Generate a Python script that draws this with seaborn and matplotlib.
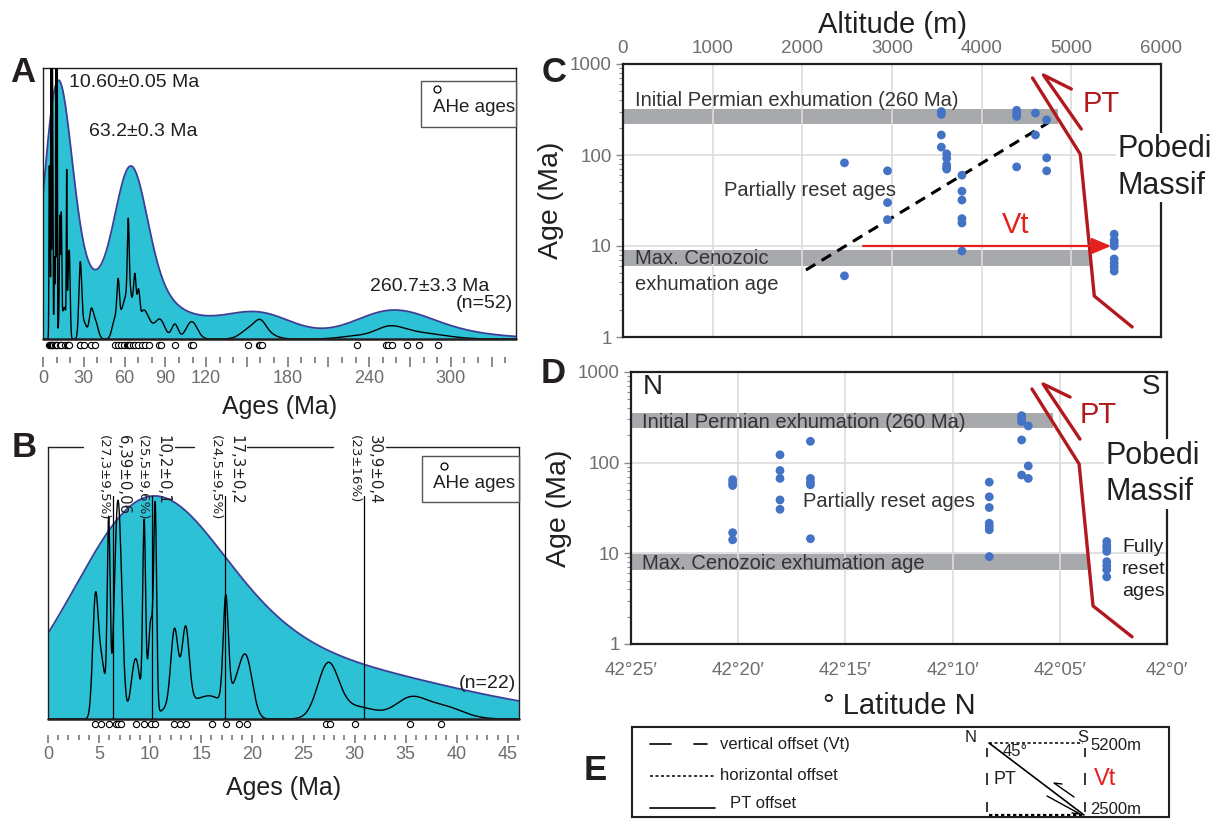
import numpy as np
import seaborn as sns
import matplotlib.pyplot as plt
from matplotlib import font_manager
from matplotlib.patches import Rectangle
from matplotlib.transforms import blended_transform_factory
from matplotlib.ticker import MultipleLocator, FuncFormatter, LogLocator, NullFormatter

# AHe ages younger than 40 Ma (panel B, n=22) and 1 sigma (Ma)
young_ages = [4.62, 5.18, 5.94, 6.67, 6.83, 7.10, 8.58, 9.41, 10.07, 10.50, 12.38,
              12.94, 13.47, 16.01, 17.40, 18.65, 19.48, 27.24, 27.57, 30.04, 35.39, 38.46]
young_err = [0.26, 0.43, 0.14, 0.30, 0.30, 0.30, 0.43, 0.14, 0.27, 0.14, 0.35,
             1.50, 0.35, 1.25, 0.25, 0.80, 0.60, 1.00, 1.00, 2.10, 1.45, 2.00]
# older AHe ages, panel A only (A has all 52)
old_ages = [52.8, 55.3, 57.3, 59.7, 61.5, 62.7, 63.3, 64.0, 66.5, 67.7, 70.2, 72.7, 75.2, 77.7,
            85.0, 87.0, 97.0, 108.8, 110.0, 151.0, 158.6, 160.0, 161.0,
            230.8, 252.0, 254.0, 257.0, 268.0, 277.0, 290.5]
old_err = [2.0, 0.9, 2.5, 2.5, 2.0, 0.6, 1.2, 2.5, 1.5, 0.9, 1.0, 2.5, 3.0, 3.5,
           3.5, 3.5, 2.4, 4.0, 4.0, 6.0, 8.0, 4.0, 8.0,
           12.0, 10.0, 10.0, 10.0, 12.0, 14.0, 15.0]

peak_ages = [6.39, 10.2, 17.3, 30.9]
peak_text = ['6,39±0,06', '10,2±0,1', '17,3±0,2', '30,9±0,4']
peak_frac = ['(27,3±9,5%)', '(25,5±9,6%)', '(24,5±9,5%)', '(23±16%)']

# panel C: altitude (m) vs age (Ma)
alt_c = [2470, 2470, 2950, 2950, 2950, 3550, 3550, 3550, 3550, 3610, 3610, 3610, 3610, 3610,
         3780, 3780, 3780, 3780, 3780, 3780, 4390, 4390, 4390, 4390, 4600, 4600,
         4725, 4725, 4725, 5478, 5478, 5478, 5478, 5478, 5478, 5478, 5478]
age_c = [82, 4.7, 67, 30, 19.5, 300, 280, 166, 122, 103, 92, 78, 73, 70,
         60, 40, 32, 20, 17.9, 8.8, 310, 285, 265, 74, 289, 166,
         243, 93, 67, 13.5, 11.6, 10.8, 10.0, 7.2, 6.5, 5.9, 5.3]
trend_alt = [2040, 4740]
trend_age = [5.45, 225]
fault_alt = [4567, 5100, 5256, 5678]
fault_age_c = [702, 102, 2.82, 1.29]
harp_alt = [5000, 4689, 5111]
harp_age_c = [531, 757, 193]
vt_alt = [2678, 5444]
vt_age = 10
permian_c = (219, 320, 4856)     # low, high, right end (m)
cenozoic_c = (6.0, 9.0, 5211)

# panel D: latitude (minutes north of 42°) vs age (Ma)
lat_d = [20.26] * 5 + [18.05] * 5 + [16.63] * 5 + [8.29] * 7 + [6.78] * 5 + [6.47] * 3 + [2.81] * 8
age_d = [65, 60, 56, 16.9, 14.1,
         122, 82, 67, 38.8, 30.6,
         172, 67, 61, 57, 14.5,
         61, 42, 32, 21.5, 19.8, 18.2, 9.2,
         330, 308, 283, 178, 73,
         254, 92, 67,
         13.5, 12.2, 11.4, 10.5, 8.1, 7.3, 6.6, 5.5]
fault_lat = [6.30, 4.10, 3.45, 1.63]
fault_age_d = [650, 96.8, 2.63, 1.2]
harp_lat = [4.52, 5.78, 4.06]
harp_age_d = [529, 738, 182]
permian_d = (241, 353, 5.32)
cenozoic_d = (6.6, 9.8, 3.68)
lat_ticks = [25, 20, 15, 10, 5, 0]
lat_labels = ['42°25′', '42°20′', '42°15′', '42°10′', '42°05′', '42°0′']

CYAN = '#2dc1d6'
EDGE = '#3b3f98'
INK = '#231f20'
GRAYTXT = '#6d6e71'
BLUE = '#4472c4'
DARKRED = '#b2191f'
RED = '#e3201b'
BAND = '#a7a9ac'
GRID = '#dcdcdc'

sns.set_theme(style='white')
plt.rcParams['font.family'] = ['Liberation Sans', 'DejaVu Sans']
names = {f.name for f in font_manager.fontManager.ttflist}
NARROW = 'Liberation Sans Narrow' if 'Liberation Sans Narrow' in names else 'DejaVu Sans'
nk = 1.0 if NARROW == 'Liberation Sans Narrow' else 0.8

W, H = 1221, 819
fig = plt.figure(figsize=(W / 100, H / 100), dpi=100)


def px_axes(l, t, r, b):
    return fig.add_axes([l / W, 1 - b / H, (r - l) / W, (b - t) / H])


def adaptive_kde(grid, data, h, alpha, q):
    # kernels widen only where the pilot density falls below its q-quantile
    d = np.asarray(data, float)
    pilot = np.exp(-0.5 * ((d[:, None] - d[None, :]) / h) ** 2).sum(axis=1)
    pref = np.quantile(pilot, q)
    hi = h * np.maximum(1.0, pref / pilot) ** alpha
    return (np.exp(-0.5 * ((grid[:, None] - d[None, :]) / hi) ** 2) / hi).sum(axis=1)


def pdp(grid, data, err):
    d = np.asarray(data, float)
    s = np.asarray(err, float)
    return (np.exp(-0.5 * ((grid[:, None] - d[None, :]) / s) ** 2) / s).sum(axis=1)


def age_panel(ax, ages, errs, xmax, kde_opts, peak_frac_top, pdp_k, n_label, circ_off):
    grid = np.linspace(0, xmax, 6000)
    kde = adaptive_kde(grid, ages, *kde_opts)
    top = kde.max() / peak_frac_top
    ax.fill_between(grid, kde, color=CYAN, lw=0, zorder=1)
    ax.plot(grid, kde, color=EDGE, lw=1.3, zorder=2)
    curve = pdp(grid, ages, errs) * pdp_k * top
    sns.lineplot(x=grid, y=curve, ax=ax, color='black', lw=1.0, estimator=None, zorder=3)
    ax.set_xlim(0, xmax)
    ax.set_ylim(0, top)
    ax.axhline(0, color=INK, lw=1.8, zorder=4, clip_on=False)
    sns.scatterplot(x=ages, y=[-circ_off * top] * len(ages), ax=ax, color='white',
                    edgecolor='black', linewidth=0.8, s=20, clip_on=False, zorder=5, legend=False)
    ax.set_yticks([])
    for s in ['left', 'right', 'top']:
        ax.spines[s].set_color(INK)
        ax.spines[s].set_linewidth(1.0)
    ax.text(0.993, 0.13, n_label, transform=ax.transAxes, ha='right', va='center', fontsize=14, color=INK)
    return top


def legend_box(ax, x0, y0, w, h, mx, my, tx, ty):
    ax.add_patch(Rectangle((x0, y0), w, h, transform=ax.transAxes, fc='white', ec='#555555',
                           lw=1.0, clip_on=False, zorder=6))
    ax.plot([mx], [my], 'o', transform=ax.transAxes, ms=5, mfc='white', mec='black', mew=0.9,
            zorder=7, clip_on=False)
    ax.text(tx, ty, 'AHe ages', transform=ax.transAxes, fontsize=13.5, va='center', ha='left',
            color=INK, zorder=7)


# ---------------- panel A ----------------
axA = px_axes(43, 68, 516, 339)
ages_a = young_ages + old_ages
err_a = young_err + old_err
topA = age_panel(axA, ages_a, err_a, 348, (9.0, 0.75, 0.75), 0.955, 0.13, '(n=52)', 0.022)
axA.spines['bottom'].set_position(('outward', 13))
axA.spines['bottom'].set_visible(False)
axA.xaxis.set_major_locator(MultipleLocator(30))
axA.xaxis.set_minor_locator(MultipleLocator(10))
axA.xaxis.set_major_formatter(FuncFormatter(
    lambda v, p: '' if int(round(v)) in (150, 210, 270, 330) else f'{v:.0f}'))
axA.tick_params(axis='x', which='major', bottom=True, direction='out', length=7.2, width=1.1,
                color=GRAYTXT, labelsize=13, labelcolor=GRAYTXT, pad=2)
axA.tick_params(axis='x', which='minor', bottom=True, direction='out', length=4.3, width=1.1,
                color=GRAYTXT)
axA.set_xlabel('Ages (Ma)', fontsize=18, color=INK, labelpad=6)
axA.text(0.055, 0.945, '10.60±0.05 Ma', transform=axA.transAxes, fontsize=14, va='center', color=INK)
axA.text(0.098, 0.764, '63.2±0.3 Ma', transform=axA.transAxes, fontsize=14, va='center', color=INK)
axA.text(0.691, 0.192, '260.7±3.3 Ma', transform=axA.transAxes, fontsize=14, va='center', color=INK)
legend_box(axA, 0.80, 0.782, 0.20, 0.170, 0.832, 0.922, 0.825, 0.856)

# ---------------- panel B ----------------
axB = px_axes(48, 447, 519, 719)
topB = age_panel(axB, young_ages, young_err, 46.1, (6.0, 0.5, 1.0), 0.82, 0.095, '(n=22)', 0.018)
axB.spines['bottom'].set_position(('outward', 11.5))
axB.spines['bottom'].set_visible(False)
axB.xaxis.set_major_locator(MultipleLocator(5))
axB.xaxis.set_minor_locator(MultipleLocator(1))
axB.xaxis.set_major_formatter(FuncFormatter(lambda v, p: f'{v:.0f}'))
axB.tick_params(axis='x', which='major', bottom=True, direction='out', length=6, width=1.1,
                color=GRAYTXT, labelsize=13, labelcolor=GRAYTXT, pad=2)
axB.tick_params(axis='x', which='minor', bottom=True, direction='out', length=3.6, width=1.1,
                color=GRAYTXT)
axB.set_xlabel('Ages (Ma)', fontsize=18, color=INK, labelpad=9)
legend_box(axB, 0.794, 0.798, 0.206, 0.169, 0.841, 0.930, 0.818, 0.864)

# top frame of B broken where the peak labels sit
axB.spines['top'].set_visible(False)
gaps = []
for pk in peak_ages:
    lo, hi = pk - 3.0, pk + 2.2
    if gaps and lo <= gaps[-1][1]:
        gaps[-1][1] = hi
    else:
        gaps.append([lo, hi])
edges = [0] + [v for g in gaps for v in g] + [46.1]
for a, b in zip(edges[0::2], edges[1::2]):
    axB.plot([a, b], [topB, topB], color=INK, lw=1.0, clip_on=False, zorder=6)
trB = blended_transform_factory(axB.transData, axB.transAxes)
for pk, t1, t2 in zip(peak_ages, peak_text, peak_frac):
    axB.plot([pk, pk], [0, 0.82 * topB], color='black', lw=0.9, zorder=4)
    axB.text(pk + 0.3, 1.045, t1, transform=trB, rotation=-90, ha='left', va='top',
             fontsize=13.5 * nk, family=NARROW, color=INK, zorder=7)
    axB.text(pk - 0.3, 1.045, t2, transform=trB, rotation=-90, ha='right', va='top',
             fontsize=12 * nk, family=NARROW, color=INK, zorder=7)


# ---------------- panels C and D ----------------
def age_log_axes(ax):
    ax.set_yscale('log')
    ax.set_ylim(1, 1000)
    ax.yaxis.set_major_formatter(FuncFormatter(lambda v, p: f'{v:g}'))
    ax.yaxis.set_minor_locator(LogLocator(base=10, subs=range(2, 10)))
    ax.yaxis.set_minor_formatter(NullFormatter())
    ax.tick_params(axis='y', which='major', left=True, direction='out', length=5, width=1,
                   color='#8a8a8a', labelsize=13.5, labelcolor=GRAYTXT, pad=3)
    ax.tick_params(axis='y', which='minor', left=True, direction='out', length=3, width=0.8,
                   color='#8a8a8a')
    ax.grid(True, which='major', color=GRID, lw=1.2)
    ax.set_axisbelow(True)
    for s in ax.spines.values():
        s.set_color(INK)
        s.set_linewidth(1.6)
    ax.set_ylabel('Age (Ma)', fontsize=20.5, color=INK, labelpad=4)


axC = px_axes(623, 64, 1161, 337)
age_log_axes(axC)
axC.set_xlim(0, 6000)
axC.set_xticks(range(0, 7000, 1000))
axC.xaxis.tick_top()
axC.xaxis.set_label_position('top')
axC.tick_params(axis='x', top=True, bottom=False, length=0, labelsize=13.5, labelcolor=GRAYTXT, pad=5)
axC.set_xlabel('Altitude (m)', fontsize=21, color=INK, labelpad=5)
axC.fill_between([0, permian_c[2]], permian_c[0], permian_c[1], color=BAND, lw=0, zorder=0.3)
axC.fill_between([0, cenozoic_c[2]], cenozoic_c[0], cenozoic_c[1], color=BAND, lw=0, zorder=0.3)
axC.plot(trend_alt, trend_age, color='black', lw=2.2, ls=(0, (3.6, 2.4)), zorder=3)
sns.scatterplot(x=alt_c, y=age_c, ax=axC, color=BLUE, s=40, edgecolor='none', zorder=4, legend=False)
axC.plot(fault_alt, fault_age_c, color=DARKRED, lw=2.4, zorder=5)
axC.plot(harp_alt, harp_age_c, color=DARKRED, lw=2.4, zorder=5)
axC.annotate('', xy=(vt_alt[1], vt_age), xytext=(vt_alt[0], vt_age), zorder=6,
             arrowprops=dict(arrowstyle='-|>,head_length=0.6,head_width=0.25', color=RED, lw=1.6,
                             mutation_scale=20, shrinkA=0, shrinkB=0))
axC.text(134, 402, 'Initial Permian exhumation (260 Ma)', fontsize=14.5, color='#333333', va='center')
axC.text(134, 7.2, 'Max. Cenozoic', fontsize=14.5, color='#333333', va='center')
axC.text(134, 3.73, 'exhumation age', fontsize=14.5, color='#333333', va='center')
axC.text(1126, 41, 'Partially reset ages', fontsize=14.5, color='#333333', va='center')
axC.text(5128, 363, 'PT', fontsize=21, color=DARKRED, va='center')
axC.text(4225, 17, 'Vt', fontsize=21, color=RED, va='center')
axC.text(5518, 72.9, 'Pobedi\nMassif', fontsize=22, color=INK, va='center', ha='left', linespacing=1.28,
         bbox=dict(fc='white', ec='none', pad=1), clip_on=False, zorder=7)

axD = px_axes(631, 372, 1167, 644)
age_log_axes(axD)
axD.set_xlim(25, 0)
axD.set_xticks(lat_ticks)
axD.set_xticklabels(lat_labels)
axD.tick_params(axis='x', bottom=True, length=0, labelsize=13.5, labelcolor=GRAYTXT, pad=13)
axD.set_xlabel('° Latitude N', fontsize=21, color=INK, labelpad=9)
axD.fill_between([25, permian_d[2]], permian_d[0], permian_d[1], color=BAND, lw=0, zorder=0.3)
axD.fill_between([25, cenozoic_d[2]], cenozoic_d[0], cenozoic_d[1], color=BAND, lw=0, zorder=0.3)
sns.scatterplot(x=lat_d, y=age_d, ax=axD, color=BLUE, s=40, edgecolor='none', zorder=4, legend=False)
axD.plot(fault_lat, fault_age_d, color=DARKRED, lw=2.4, zorder=5)
axD.plot(harp_lat, harp_age_d, color=DARKRED, lw=2.4, zorder=5)
axD.text(0.022, 0.946, 'N', transform=axD.transAxes, fontsize=20, color=INK, va='center')
axD.text(0.987, 0.946, 'S', transform=axD.transAxes, fontsize=20, color=INK, va='center', ha='right')
axD.text(24.49, 275, 'Initial Permian exhumation (260 Ma)', fontsize=14.5, color='#333333', va='center')
axD.text(24.49, 7.8, 'Max. Cenozoic exhumation age', fontsize=14.5, color='#333333', va='center')
axD.text(16.98, 37, 'Partially reset ages', fontsize=14.5, color='#333333', va='center')
axD.text(4.06, 336, 'PT', fontsize=21, color=DARKRED, va='center')
axD.text(2.89, 75, 'Pobedi\nMassif', fontsize=22, color=INK, va='center', ha='left', linespacing=1.28,
         bbox=dict(fc='white', ec='none', pad=1), clip_on=False, zorder=7)
axD.text(2.1, 6.6, 'Fully\nreset\nages', fontsize=14, color=INK, va='center', ha='left', linespacing=1.37)

# ---------------- panel E (schematic) ----------------
axE = px_axes(632, 727, 1169, 817)
axE.set_xlim(632, 1169)
axE.set_ylim(817, 727)
axE.set_xticks([])
axE.set_yticks([])
for s in axE.spines.values():
    s.set_color(INK)
    s.set_linewidth(1.5)
k = dict(color='black', lw=1.2)
axE.plot([650, 671], [744, 744], **k)
axE.plot([694, 707], [744, 744], **k)
axE.plot([650, 714], [776, 776], color='black', lw=1.1, ls=(0, (2, 1.6)))
axE.plot([650, 715], [808, 808], **k)
axE.text(720, 744, 'vertical offset (Vt)', fontsize=12, va='center', color=INK)
axE.text(720, 776, 'horizontal offset', fontsize=12, va='center', color=INK)
axE.text(730, 804, 'PT offset', fontsize=12, va='center', color=INK)
axE.plot([989, 1083], [743, 743], color='black', lw=1.1, ls=(0, (2, 1.6)))
axE.plot([989, 1084], [815, 815], color='black', lw=1.6, ls=(0, (1.5, 1.2)))
axE.plot([989, 1084], [743, 815], **k)
for xv in (987, 1085):
    axE.vlines([xv] * 3, [748, 773, 802], [757, 785, 812], color='black', lw=1.1)
axE.plot([1074, 1054, 1062], [797, 783, 784], color='black', lw=1.0)
axE.plot([1047, 1080, 1072], [796, 814, 813], color='black', lw=1.0)
axE.text(971, 737, 'N', fontsize=12, ha='center', va='center', color=INK)
axE.text(1083, 737, 'S', fontsize=12, ha='center', va='center', color=INK)
axE.text(1015, 751, '45°', fontsize=12, ha='center', va='center', color=INK)
axE.text(994, 779, 'PT', fontsize=13, ha='left', va='center', color=INK)
axE.text(1094, 779, 'Vt', fontsize=17, ha='left', va='center', color=RED)
axE.text(1090, 746, '5200m', fontsize=12, ha='left', va='center', color=INK)
axE.text(1090, 810, '2500m', fontsize=12, ha='left', va='center', color=INK)

# panel letters
for lab, x, y in [('A', 23, 82), ('B', 24, 457), ('C', 554, 82), ('D', 553, 383), ('E', 595, 780)]:
    fig.text(x / W, 1 - y / H, lab, fontsize=25, fontweight='bold', ha='center', va='baseline', color=INK)

fig.savefig('out.png', dpi=100)
